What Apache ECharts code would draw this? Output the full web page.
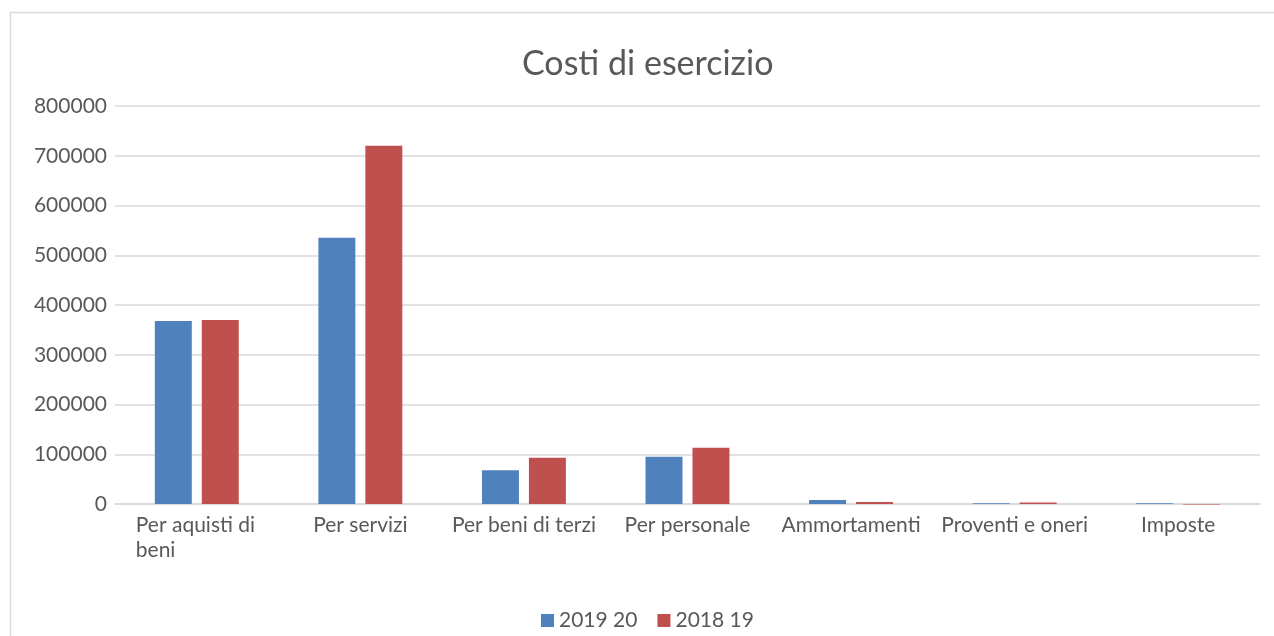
<!DOCTYPE html>
<html>
<head>
<meta charset="utf-8">
<script src="https://cdn.jsdelivr.net/npm/echarts@6/dist/echarts.min.js"></script>
<style>html,body{margin:0;padding:0;background:#fff}#c{width:1274px;height:636px}</style>
</head>
<body>
<div id="c"></div>
<script>
const categories = ['Per aquisti di beni', 'Per servizi', 'Per beni di terzi', 'Per personale', 'Ammortamenti', 'Proventi e oneri', 'Imposte'];
const series2019 = [368000, 535000, 68000, 95000, 8000, 1500, 1500];
const series2018 = [370000, 720000, 93000, 113000, 4000, 3000, -800];
const seriesNames = ['2019 20', '2018 19'];
const yTicks = [0, 100000, 200000, 300000, 400000, 500000, 600000, 700000, 800000];

const font = 'Lato, "Open Sans", sans-serif';
const chart = echarts.init(document.getElementById('c'));
chart.setOption({
  animation: false,
  title: {
    text: 'Costi di esercizio', left: 517, top: 42,
    textStyle: { fontFamily: font, fontSize: 34, fontWeight: 'normal', color: '#595959' }
  },
  graphic: [{
    type: 'rect', shape: { x: 10.5, y: 12.5, width: 1400, height: 800 },
    style: { fill: 'none', stroke: '#d9d9d9', lineWidth: 1.5 }, z: -1
  }],
  legend: {
    data: seriesNames, bottom: 0, left: 536, itemWidth: 13, itemHeight: 13, itemGap: 20,
    icon: 'rect',
    textStyle: { fontFamily: font, fontSize: 21, color: '#595959' }
  },
  grid: { left: 115, right: 14, top: 106, bottom: 132 },
  xAxis: {
    type: 'category', data: categories,
    axisLine: { lineStyle: { color: '#d9d9d9', width: 1.5 } },
    axisTick: { show: false },
    axisLabel: {
      fontFamily: font, fontSize: 21, color: '#595959', margin: 9, interval: 0, lineHeight: 25,
      formatter: v => v === 'Per aquisti di beni' ? '{l|Per aquisti di}\n{l|beni}' : v,
      rich: { l: { width: 122, align: 'left', fontFamily: font, fontSize: 21, color: '#595959', lineHeight: 25 } }
    }
  },
  yAxis: {
    type: 'value', min: yTicks[0], max: yTicks[yTicks.length - 1], interval: 100000,
    axisLine: { show: false }, axisTick: { show: false },
    splitLine: { lineStyle: { color: '#d9d9d9', width: 1.5 } },
    axisLabel: { fontFamily: font, fontSize: 21, color: '#595959', margin: 8, formatter: v => String(v) }
  },
  series: [
    { name: seriesNames[0], type: 'bar', data: series2019, barWidth: '22.6%', barGap: '27%', clip: false,
      itemStyle: { color: '#4f81bd' } },
    { name: seriesNames[1], type: 'bar', data: series2018, barWidth: '22.6%', barGap: '27%', clip: false,
      itemStyle: { color: '#c0504d' } }
  ]
});
</script>
</body>
</html>
